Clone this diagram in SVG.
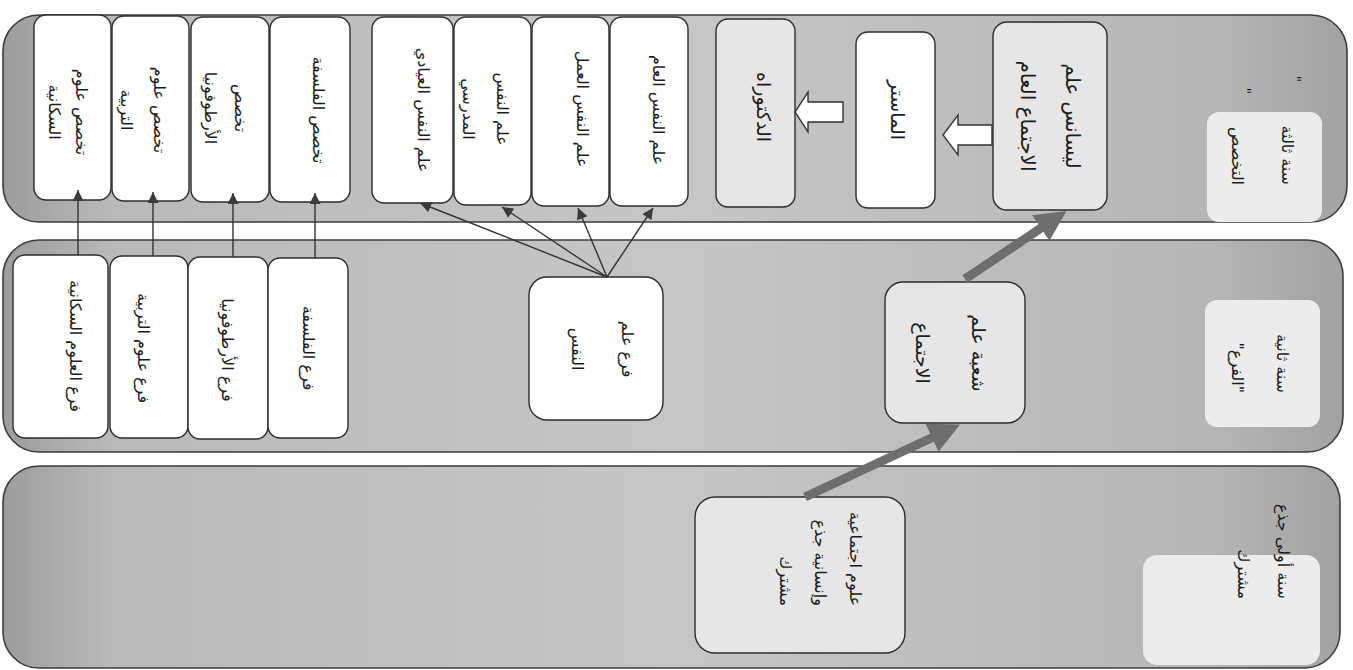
<svg xmlns="http://www.w3.org/2000/svg" width="1353" height="670" viewBox="0 0 1353 670">
<defs>
<linearGradient id="band" x1="0" y1="0" x2="1" y2="0">
<stop offset="0" stop-color="#9c9c9c"/>
<stop offset="0.08" stop-color="#b9b9b9"/>
<stop offset="0.5" stop-color="#c6c6c6"/>
<stop offset="0.9" stop-color="#b6b6b6"/>
<stop offset="1" stop-color="#a2a2a2"/>
</linearGradient>
<marker id="thin" viewBox="0 0 10 10" refX="10" refY="5" markerWidth="12" markerHeight="11" markerUnits="userSpaceOnUse" orient="auto">
<path d="M0,0 L10,5 L0,10 z" fill="#3a3a3a"/>
</marker>
<marker id="thick" viewBox="0 0 10 10" refX="3.6" refY="5" markerWidth="31" markerHeight="34" markerUnits="userSpaceOnUse" orient="auto">
<path d="M0,0 L10,5 L0,10 z" fill="#6e6e6e"/>
</marker>
</defs>
<style>
.band{fill:url(#band);stroke:#3c3c3c;stroke-width:1.6}
.n{fill:#ffffff;stroke:#2c2c2c;stroke-width:1.4}
.nl{fill:#e6e6e6;stroke:#2c2c2c;stroke-width:1.4}
.lab{fill:#ececec;stroke:none}
.t{font-family:"DejaVu Sans","Noto Sans",sans-serif;font-size:16px;fill:#1c1c1c;direction:rtl;text-anchor:middle}
.ts{text-anchor:start}
.big{font-size:19px}
.q{font-family:"DejaVu Sans",sans-serif;font-size:14px;fill:#1c1c1c;text-anchor:middle}
.c{stroke:#333;stroke-width:1.4;fill:none}
.k{stroke:#6e6e6e;stroke-width:9;fill:none}
.h{fill:#ffffff;stroke:#333;stroke-width:1.4}
</style>

<g id="bands">
<rect id="band3" class="band" x="3" y="15" width="1344" height="207" rx="36"/>
<rect id="band2" class="band" x="3" y="240" width="1340" height="212" rx="36"/>
<rect id="band1" class="band" x="3" y="466" width="1337" height="202" rx="36"/>
</g>

<g id="label3">
<rect class="lab" x="1207" y="112" width="115" height="110" rx="12"/>
<text class="t ts" transform="translate(1262,185) rotate(90)"><tspan x="0" y="-20">سنة ثالثة</tspan><tspan x="0" y="30">التخصص</tspan></text>
<text class="q" transform="translate(1291,79) rotate(90)">"</text>
<text class="q" transform="translate(1241,91) rotate(90)">"</text>
</g>
<g id="label2">
<rect class="lab" x="1205" y="300" width="115" height="127" rx="12"/>
<text class="t ts" transform="translate(1260,393) rotate(90)"><tspan x="0" y="-17">سنة ثانية</tspan><tspan x="0" y="28">"الفرع"</tspan></text>
</g>
<g id="label1">
<rect class="lab" x="1143" y="555" width="177" height="110" rx="14"/>
<text class="t ts" transform="translate(1263,599) rotate(90)"><tspan x="0" y="-15">سنة أولى جذع</tspan><tspan x="0" y="25">مشترك</tspan></text>
</g>

<g id="n1"><rect class="n" x="34" y="15" width="77" height="185" rx="12"/>
<text class="t" transform="translate(68,112) rotate(90)"><tspan x="0" y="-8">تخصص علوم</tspan><tspan x="0" y="19">السكانية</tspan></text></g>
<g id="n2"><rect class="n" x="112" y="16" width="77" height="185" rx="12"/>
<text class="t" transform="translate(143,110) rotate(90)"><tspan x="0" y="-11">تخصص علوم</tspan><tspan x="0" y="22">التربية</tspan></text></g>
<g id="n3"><rect class="n" x="191" y="17" width="78" height="185" rx="12"/>
<text class="t" transform="translate(225,108) rotate(90)"><tspan x="0" y="-10">تخصص</tspan><tspan x="0" y="20">الأرطوفونيا</tspan></text></g>
<g id="n4"><rect class="n" x="270" y="17" width="80" height="185" rx="12"/>
<text class="t" transform="translate(318,110) rotate(90)"><tspan x="0" y="5">تخصص الفلسفة</tspan></text></g>
<g id="n5"><rect class="n" x="372" y="17" width="81" height="186" rx="12"/>
<text class="t" transform="translate(423,110) rotate(90)"><tspan x="0" y="5">علم النفس العيادي</tspan></text></g>
<g id="n6"><rect class="n" x="454" y="17" width="77" height="188" rx="12"/>
<text class="t" transform="translate(485,109) rotate(90)"><tspan x="0" y="-12">علم النفس</tspan><tspan x="0" y="22">المدرسي</tspan></text></g>
<g id="n7"><rect class="n" x="532" y="17" width="77" height="189" rx="12"/>
<text class="t" transform="translate(582,109) rotate(90)"><tspan x="0" y="5">علم النفس العمل</tspan></text></g>
<g id="n8"><rect class="n" x="610" y="17" width="78" height="189" rx="12"/>
<text class="t" transform="translate(658,110) rotate(90)"><tspan x="0" y="5">علم النفس العام</tspan></text></g>
<g id="n9"><rect class="nl" x="716" y="19" width="79" height="188" rx="12"/>
<text class="t big" transform="translate(763,107) rotate(90)"><tspan x="0" y="6">الدكتوراه</tspan></text></g>
<g id="n10"><rect class="n" x="856" y="32" width="79" height="176" rx="12"/>
<text class="t big" transform="translate(897,110) rotate(90)"><tspan x="0" y="6">الماستر</tspan></text></g>
<g id="n11"><rect class="nl" x="993" y="22" width="114" height="188" rx="14"/>
<text class="t big" style="font-size:20px" transform="translate(1050,116) rotate(90)"><tspan x="0" y="-16">ليسانس علم</tspan><tspan x="0" y="29">الاجتماع العام</tspan></text></g>

<g id="m1"><rect class="n" x="13" y="255" width="95" height="183" rx="12"/>
<text class="t" transform="translate(75,346) rotate(90)"><tspan x="0" y="5">فرع العلوم السكانية</tspan></text></g>
<g id="m2"><rect class="n" x="110" y="256" width="78" height="182" rx="12"/>
<text class="t" transform="translate(143,348) rotate(90)"><tspan x="0" y="5">فرع علوم التربية</tspan></text></g>
<g id="m3"><rect class="n" x="188" y="257" width="80" height="182" rx="12"/>
<text class="t" transform="translate(227,350) rotate(90)"><tspan x="0" y="5">فرع الأرطوفونيا</tspan></text></g>
<g id="m4"><rect class="n" x="268" y="258" width="80" height="180" rx="12"/>
<text class="t" transform="translate(308,348) rotate(90)"><tspan x="0" y="5">فرع الفلسفة</tspan></text></g>
<g id="m5"><rect class="n" x="529" y="277" width="134" height="143" rx="18"/>
<text class="t" transform="translate(602,349) rotate(90)"><tspan x="0" y="-20">فرع علم</tspan><tspan x="0" y="30">النفس</tspan></text></g>
<g id="m6"><rect class="nl" x="885" y="282" width="140" height="141" rx="18"/>
<text class="t big" transform="translate(950,353) rotate(90)"><tspan x="0" y="-22">شعبة علم</tspan><tspan x="0" y="34">الاجتماع</tspan></text></g>

<g id="b1"><rect class="nl" x="695" y="497" width="210" height="156" rx="20"/>
<text class="t ts" transform="translate(820,606) rotate(90)"><tspan x="0" y="-30">علوم اجتماعية</tspan><tspan x="0" y="5">وإنسانية جذع</tspan><tspan x="0" y="40">مشترك</tspan></text></g>

<g id="connectors">
<line class="c" x1="78" y1="255" x2="78" y2="190" marker-end="url(#thin)"/>
<line class="c" x1="153" y1="256" x2="153" y2="192" marker-end="url(#thin)"/>
<line class="c" x1="233" y1="257" x2="233" y2="193" marker-end="url(#thin)"/>
<line class="c" x1="315" y1="258" x2="315" y2="193" marker-end="url(#thin)"/>
<line class="c" x1="607" y1="277" x2="420" y2="203" marker-end="url(#thin)"/>
<line class="c" x1="607" y1="277" x2="502" y2="207" marker-end="url(#thin)"/>
<line class="c" x1="607" y1="277" x2="578" y2="208" marker-end="url(#thin)"/>
<line class="c" x1="607" y1="277" x2="653" y2="208" marker-end="url(#thin)"/>
<line class="k" x1="805" y1="497" x2="942" y2="433" marker-end="url(#thick)"/>
<line class="k" x1="965" y1="279" x2="1050" y2="222" marker-end="url(#thick)"/>
<polygon class="h" points="992,125 958,125 958,115 943,135 958,155 958,145 992,145"/>
<polygon class="h" points="843,102 808,102 808,92 795,112 808,132 808,122 843,122"/>
</g>
</svg>
